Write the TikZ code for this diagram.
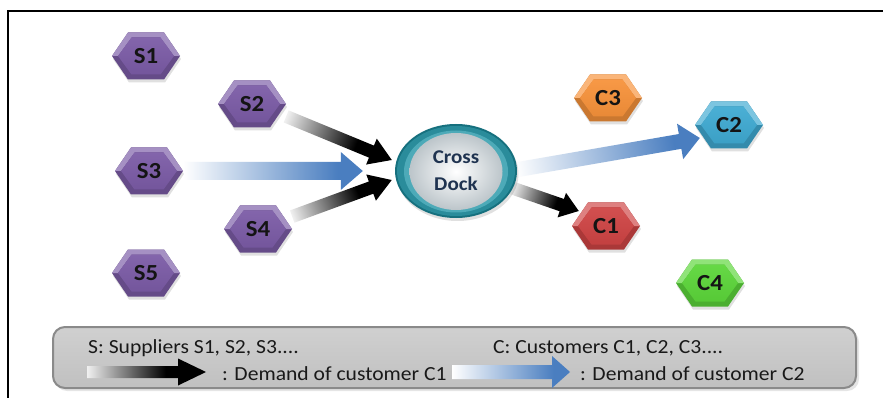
\documentclass[tikz,border=0pt]{standalone}
\usepackage{fontspec}
\setmainfont{Carlito}[FakeStretch=1.08]
\usetikzlibrary{calc,shapes.geometric}

\definecolor{supplier}{HTML}{7B5BA6}
\definecolor{custorange}{HTML}{F7923A}
\definecolor{custteal}{HTML}{3FAAD2}
\definecolor{custred}{HTML}{CF4444}
\definecolor{custgreen}{HTML}{5CD63A}
\definecolor{flowblue}{HTML}{4A7EC0}
\definecolor{tailgray}{HTML}{F0F0F0}
\definecolor{docktext}{HTML}{1F3350}
\definecolor{ringedge}{HTML}{16707E}
\definecolor{ringmid}{HTML}{2A8C9B}
\definecolor{ringlight}{HTML}{4DAAB8}
\definecolor{dockgray}{HTML}{BCC5CA}
\definecolor{legendedge}{HTML}{8A8A8A}
\definecolor{legendtop}{HTML}{D0D0D0}
\definecolor{legendbottom}{HTML}{C0C0C0}

% gradients along a flow arrow: light tail, solid head
\pgfdeclarehorizontalshading{blackflow}{100bp}{color(0bp)=(tailgray); color(25bp)=(tailgray); color(58bp)=(black); color(100bp)=(black)}
\pgfdeclarehorizontalshading{blueflow}{100bp}{color(0bp)=(white); color(25bp)=(white); color(68bp)=(flowblue); color(100bp)=(flowblue)}

\pgfdeclarelayer{bg}
\pgfdeclarelayer{flows}
\pgfsetlayers{bg,flows,main}

\newcommand\hexlabelfont{\fontsize{23}{26}\selectfont\bfseries}
\newcommand\docklabelfont{\fontsize{19.5}{27}\selectfont\bfseries}
\newcommand\legendfont{\fontsize{20}{24}\selectfont}

% bevelled hexagon with a named label node on top
\newcommand\hexnode[4]{%
  \begin{scope}[shift={(#2)}]
    \fill[black, opacity=0.12] (-33pt,-3pt) -- (-17pt,20.5pt) -- (19pt,20.5pt) -- (35pt,-3pt) -- (19pt,-26.5pt) -- (-17pt,-26.5pt) -- cycle;
    \fill[#3!82!black] (-34pt,0pt) -- (-18pt,23.5pt) -- (18pt,23.5pt) -- (34pt,0pt) -- (18pt,-23.5pt) -- (-18pt,-23.5pt) -- cycle;
    \fill[#3!68!white] (-34pt,0pt) -- (-18pt,23.5pt) -- (18pt,23.5pt) -- (34pt,0pt) -- (28pt,0pt) -- (14.5pt,18.5pt) -- (-14.5pt,18.5pt) -- (-28pt,0pt) -- cycle;
    \shade[top color=#3!94!white, bottom color=#3!94!black] (-28pt,0pt) -- (-14.5pt,18.5pt) -- (14.5pt,18.5pt) -- (28pt,0pt) -- (14.5pt,-18.5pt) -- (-14.5pt,-18.5pt) -- cycle;
  \end{scope}
  \node[hexbox] (#1) at (#2) {#4};}

% wide gradient arrow from #1 to #2; #3 shading, #4 shaft half width, #5 head half width, #6 head length
\newcommand\flowarrow[6]{%
  \path let \p1=#1, \p2=#2 in \pgfextra{%
    \pgfmathsetmacro\tmpang{atan2(\y2-\y1,\x2-\x1)}\global\let\flowang\tmpang
    \pgfmathsetmacro\tmplen{veclen(\x2-\x1,\y2-\y1)}\global\let\flowlen\tmplen
    \xdef\flowx{\x1}\xdef\flowy{\y1}};
  \begin{scope}[transform canvas={shift={(\flowx,\flowy)},rotate=\flowang}]
    \shade[shading=#3] (0pt,#4pt) -- ({\flowlen pt-#6pt},#4pt) -- ({\flowlen pt-#6pt},#5pt)
      -- (\flowlen pt,0pt) -- ({\flowlen pt-#6pt},-#5pt) -- ({\flowlen pt-#6pt},-#4pt) -- (0pt,-#4pt) -- cycle;
  \end{scope}}

\begin{document}
\begin{tikzpicture}[x=1pt,y=-1pt,
  hexbox/.style={minimum width=68pt, minimum height=47pt, inner sep=0pt, font=\hexlabelfont, text=black!92},
  crossdock/.style={ellipse, minimum width=122pt, minimum height=94pt, inner sep=0pt, align=center, text=docktext, font=\docklabelfont},
  legendbox/.style={minimum width=803pt, minimum height=61pt, inner sep=0pt, rounded corners=12pt, draw=legendedge, line width=2pt, top color=legendtop, bottom color=legendbottom},
  legendtext/.style={inner sep=0pt, anchor=base west, font=\legendfont, text=black!90}]
\useasboundingbox (0,0) rectangle (883,398);
\begin{pgfonlayer}{bg}
  \fill[white] (0,0) rectangle (883,398);
\end{pgfonlayer}
\draw[line width=2pt] (8,398) -- (8,11) -- (883,11);

% suppliers
\hexnode{S1}{146,56}{supplier}{S1}
\hexnode{S2}{252,104}{supplier}{S2}
\hexnode{S3}{149,171}{supplier}{S3}
\hexnode{S4}{258,229}{supplier}{S4}
\hexnode{S5}{146,273}{supplier}{S5}

% cross dock: teal ring around a white centre
\begin{scope}[shift={(456,171)}]
  \fill[black, opacity=0.12] (1.5pt,-3pt) ellipse [x radius=61pt, y radius=47pt];
  \fill[ringedge] (0pt,0pt) ellipse [x radius=61pt, y radius=47pt];
  \fill[ringmid] (0pt,0pt) ellipse [x radius=59pt, y radius=45pt];
  \fill[ringlight] (0pt,-0.5pt) ellipse [x radius=52pt, y radius=41pt];
  \shade[inner color=white, outer color=dockgray] (0pt,-0.5pt) ellipse [x radius=46.5pt, y radius=38.5pt];
\end{scope}
\node[crossdock] (cd) at (456,171) {Cross\\Dock};

% customers
\hexnode{C3}{608,98}{custorange}{C3}
\hexnode{C2}{729,125}{custteal}{C2}
\hexnode{C1}{606,226}{custred}{C1}
\hexnode{C4}{710,283}{custgreen}{C4}

% flows
\begin{pgfonlayer}{flows}
  \flowarrow{(S2.-20)}{($(cd.west)+(-3,-11)$)}{blackflow}{6.5}{14}{22}
  \flowarrow{(S4.20)}{($(cd.west)+(-3,9)$)}{blackflow}{6.5}{14}{22}
  \flowarrow{(S3.east)}{($(cd.west)+(-32,0)$)}{blueflow}{9}{19}{22}
  \flowarrow{($(cd.east)+(-2,-1)$)}{($(C2.west)+(5,13)$)}{blueflow}{7.5}{18}{20}
  \flowarrow{($(cd.east)+(-5,17)$)}{($(C1.west)+(7,-15)$)}{blackflow}{6.5}{13}{18}
\end{pgfonlayer}

% legend
\fill[black, opacity=0.10, rounded corners=12pt] (55,330) rectangle (859,391);
\node[legendbox] (legend) at (454.5,357.5) {};
\node[legendtext] (legS) at (88,353) {S: Suppliers S1, S2, S3....};
\node[legendtext] (legC) at (493,353) {C: Customers C1, C2, C3....};
\node[legendtext] (legK) at (222,380) {: Demand of customer C1};
\node[legendtext] (legB) at (580,380) {: Demand of customer C2};
\coordinate (k1a) at (87,372);
\coordinate (k1b) at (206,372);
\coordinate (k2a) at (452,372);
\coordinate (k2b) at (570,372);
\flowarrow{(k1a)}{(k1b)}{blackflow}{6}{13.5}{28}
\flowarrow{(k2a)}{(k2b)}{blueflow}{7}{16}{18}
\end{tikzpicture}
\end{document}
